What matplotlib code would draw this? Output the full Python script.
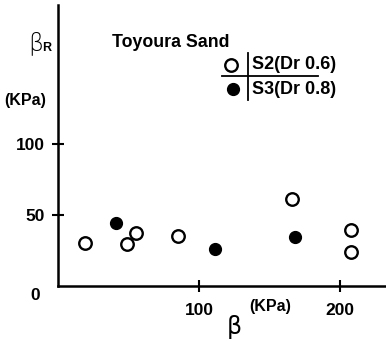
import matplotlib
matplotlib.use("Agg")
import matplotlib.pyplot as plt

# Toyoura sand: beta vs beta_R (kPa)
s2_beta = [19, 49, 55, 85, 166, 208, 208]
s2_betaR = [30, 29, 37, 35, 61, 39, 24]
s3_beta = [41, 111, 168]
s3_betaR = [44, 26, 34]

xticks = [100, 200]
yticks = [50, 100]

plt.rcParams['font.family'] = ['Liberation Sans', 'DejaVu Sans']
W, H = 386, 341
fig = plt.figure(figsize=(W / 100, H / 100), dpi=100)
x0, y0 = 58, 285.6
ax = fig.add_axes([x0 / W, 1 - y0 / H, (W - x0) / W, (y0 - 5) / H])
ax.set_xlim(0, (W - x0) / 1.41)
ax.set_ylim(0, (y0 - 5) / 1.42)
for s in ('top', 'right'):
    ax.spines[s].set_visible(False)
for s in ('left', 'bottom'):
    ax.spines[s].set_linewidth(1.8)

ax.set_xticks(xticks)
ax.set_yticks(yticks)
ax.tick_params(direction='inout', length=9, width=1.5, labelsize=12.5)
for lab in ax.get_xticklabels() + ax.get_yticklabels():
    lab.set_fontweight('bold')
ax.tick_params(axis='y', pad=5)
ax.tick_params(axis='x', pad=8)

open_mk = dict(marker='o', markersize=9, markeredgewidth=1.7, markeredgecolor='black',
               markerfacecolor='white', linestyle='none', clip_on=False)
fill_mk = dict(marker='o', markersize=8.5, markeredgewidth=1, markeredgecolor='black',
               markerfacecolor='black', linestyle='none', clip_on=False)
ax.plot(s2_beta, s2_betaR, **open_mk)
ax.plot(s3_beta, s3_betaR, **fill_mk)

# Legend block with cross lines
ax.plot([122.5], [155.4], **open_mk)
ax.plot([124.3], [138.2], **fill_mk)
ax.plot([135, 135], [130.7, 164], color='black', lw=1.3)
ax.plot([116, 184.4], [147.6, 147.6], color='black', lw=1.3)
ax.text(137.4, 155.4, 'S2(Dr 0.6)', fontsize=13, fontweight='bold', va='center', ha='left')
ax.text(137.4, 138.2, 'S3(Dr 0.8)', fontsize=13, fontweight='bold', va='center', ha='left')


def ftext(px, py, s, **kw):
    fig.text(px / W, 1 - py / H, s, **kw)


ftext(112, 42.5, 'Toyoura Sand', fontsize=12.8, fontweight='bold', va='center', ha='left')
ftext(36, 43, 'β', fontsize=17, va='center', ha='center', family=['DejaVu Sans'], fontweight='light')
ftext(47, 48, 'R', fontsize=9, fontweight='bold', va='center', ha='center')
ftext(25, 100, '(KPa)', fontsize=11.5, fontweight='bold', va='center', ha='center')
ftext(35, 296, '0', fontsize=12.5, fontweight='bold', va='center', ha='center')
ftext(270, 306.5, '(KPa)', fontsize=11.5, fontweight='bold', va='center', ha='center')
ftext(234, 327, 'β', fontsize=17, va='center', ha='center', family=['DejaVu Sans'])

fig.savefig('out.png', dpi=100)
